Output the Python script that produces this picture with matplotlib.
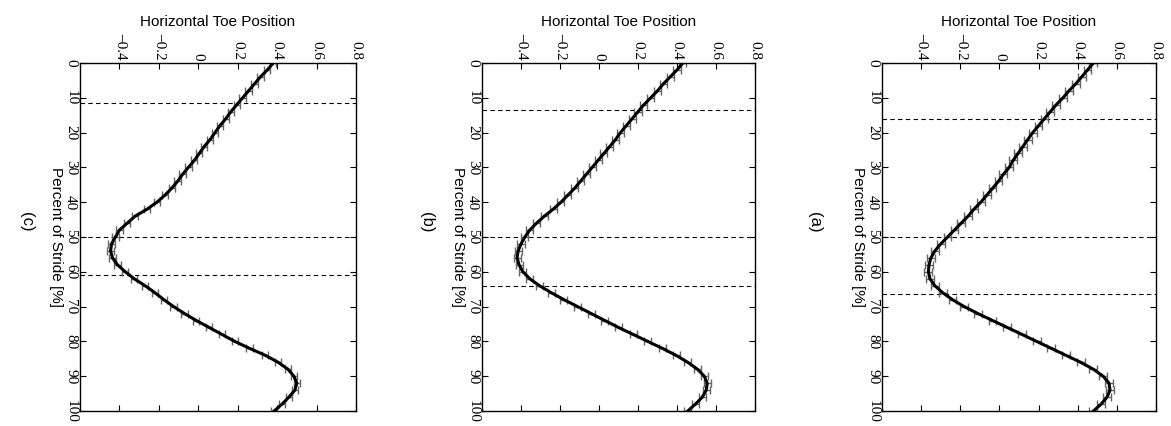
import numpy as np
import matplotlib
matplotlib.use("Agg")
import matplotlib.pyplot as plt

# percent of stride, one sample every 2 %
stride = list(range(0, 101, 2))

# mean horizontal toe position for each panel
toe_a = [0.48, 0.45, 0.42, 0.39, 0.355, 0.325, 0.29, 0.26, 0.23, 0.20,
         0.17, 0.145, 0.12, 0.095, 0.07, 0.05, 0.02, -0.005, -0.035, -0.065,
         -0.095, -0.13, -0.16, -0.195, -0.23, -0.265, -0.30, -0.33, -0.35, -0.36,
         -0.363, -0.355, -0.33, -0.29, -0.24, -0.18, -0.11, -0.035, 0.04, 0.115,
         0.19, 0.265, 0.34, 0.415, 0.48, 0.53, 0.56, 0.565, 0.55, 0.52, 0.48]
toe_b = [0.43, 0.40, 0.365, 0.33, 0.30, 0.265, 0.23, 0.20, 0.17, 0.14,
         0.11, 0.085, 0.055, 0.025, -0.005, -0.035, -0.065, -0.095, -0.125, -0.16,
         -0.195, -0.235, -0.28, -0.32, -0.355, -0.38, -0.40, -0.415, -0.42, -0.41,
         -0.39, -0.355, -0.305, -0.245, -0.18, -0.11, -0.04, 0.03, 0.10, 0.175,
         0.25, 0.325, 0.395, 0.455, 0.505, 0.54, 0.555, 0.55, 0.53, 0.495, 0.455]
toe_c = [0.38, 0.35, 0.315, 0.285, 0.255, 0.225, 0.195, 0.165, 0.14, 0.11,
         0.085, 0.06, 0.03, 0.005, -0.02, -0.05, -0.08, -0.105, -0.135, -0.17,
         -0.21, -0.26, -0.32, -0.36, -0.40, -0.42, -0.44, -0.445, -0.435, -0.41,
         -0.37, -0.325, -0.27, -0.22, -0.175, -0.125, -0.07, -0.01, 0.055, 0.12,
         0.185, 0.26, 0.34, 0.405, 0.455, 0.485, 0.50, 0.49, 0.46, 0.425, 0.385]

# error bar half widths
err_a = 0.02
err_b = 0.018
err_c = 0.016

# gait event markers (percent of stride)
events_a = [16, 50, 66.5]
events_b = [13.5, 50, 64]
events_c = [11.5, 50, 61]

panel_names = ["(a)", "(b)", "(c)"]
xticks = [-0.4, -0.2, 0, 0.2, 0.4, 0.6, 0.8]
xtick_labels = ["\u22120.4", "\u22120.2", "0", "0.2", "0.4", "0.6", "0.8"]
yticks = list(range(0, 101, 10))

W, H = 1171, 426
fig = plt.figure(figsize=(W / 100, H / 100), dpi=100)

# the original figure is a vertical stack turned 90 degrees clockwise:
# (a) ends up on the right, (c) on the left
lefts = [882, 482, 80]
widths = [274, 273, 276]
name_x = [814, 427, 27]
top, bottom = 63, 411

panels = [(toe_a, err_a, events_a), (toe_b, err_b, events_b), (toe_c, err_c, events_c)]

for (toe, err, events), name, lx, wx, nx in zip(panels, panel_names, lefts, widths, name_x):
    ax = fig.add_axes([lx / W, 1 - bottom / H, wx / W, (bottom - top) / H])

    ax.errorbar(toe, stride, xerr=err, fmt="none", ecolor="0.4",
                elinewidth=1.0, capsize=2.8, capthick=1.0, zorder=2)
    ax.plot(toe, stride, color="black", lw=2.2, zorder=3)
    for e in events:
        ax.axhline(e, color="black", ls=(0, (4, 3)), lw=0.8, zorder=1)

    ax.set_xlim(-0.6, 0.8)
    ax.set_ylim(100, 0)

    ax.xaxis.tick_top()
    ax.xaxis.set_label_position("top")
    ax.set_xticks(xticks)
    ax.set_xticklabels(xtick_labels, rotation=-90, va="bottom", ha="center",
                       family="Liberation Serif", fontsize=11)
    ax.set_yticks(yticks)
    ax.set_yticklabels([str(t) for t in yticks], rotation=-90, va="center",
                       ha="right", family="Liberation Serif", fontsize=11)
    ax.tick_params(direction="in", length=4, width=0.8, top=True, bottom=True,
                   left=True, right=True, pad=2)
    for s in ax.spines.values():
        s.set_linewidth(1.0)

    ax.set_xlabel("Horizontal Toe Position", family="Liberation Sans",
                  fontsize=11, labelpad=5)
    ax.set_ylabel("Percent of Stride [%]", family="Liberation Sans",
                  fontsize=11, rotation=-90, labelpad=1, va="top")

    fig.text(nx / W, 1 - 222 / H, name, rotation=-90, ha="center",
             va="center", family="Liberation Sans", fontsize=12)

fig.savefig("out.png", dpi=100)
